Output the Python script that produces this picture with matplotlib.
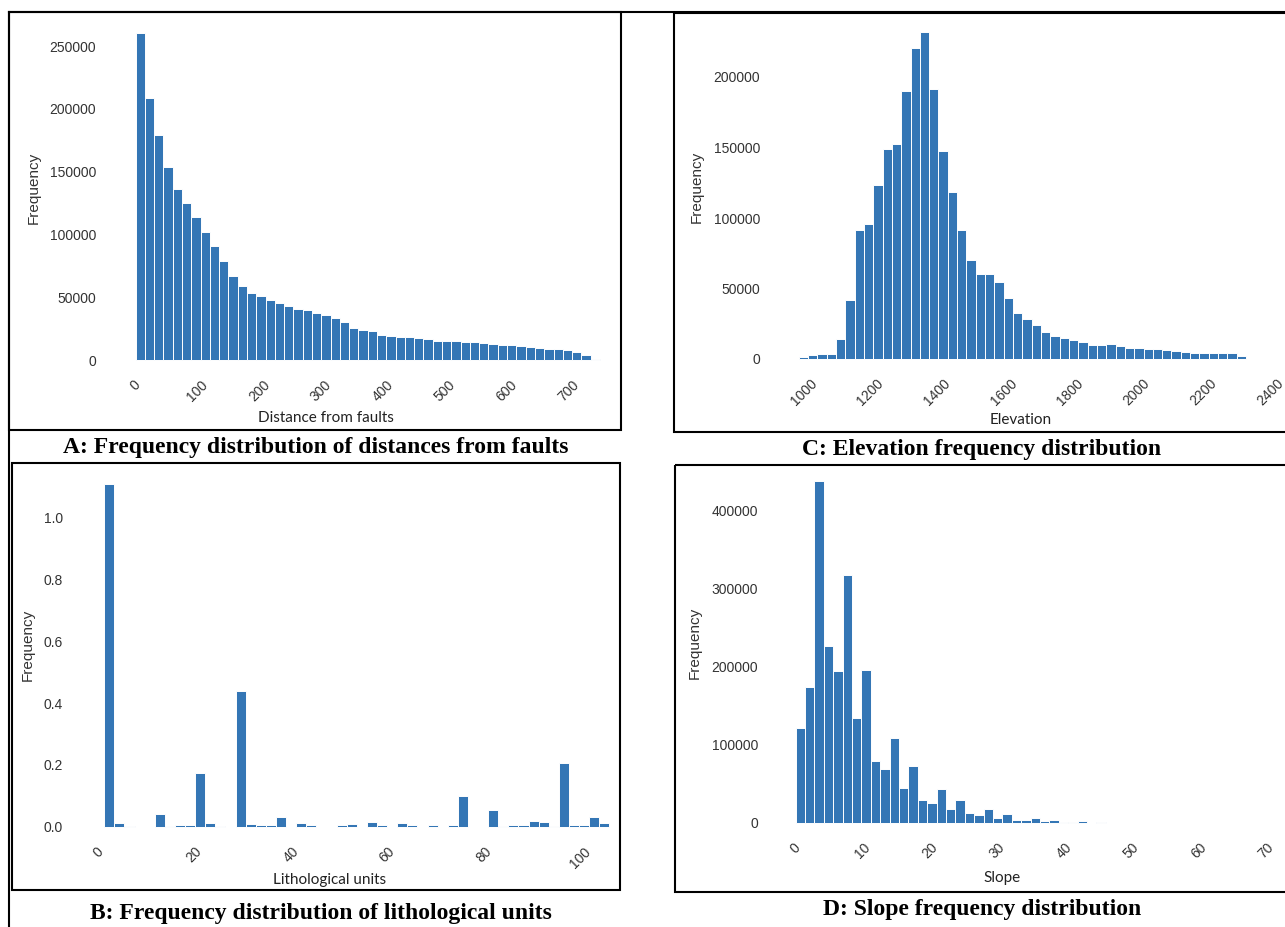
import numpy as np
import matplotlib.pyplot as plt
from matplotlib.patches import Rectangle

W, H = 1285, 927
BLUE = '#3476b5'

# A: distance from faults (50 bins of 15)
fault_edges = np.linspace(0, 750, 51)
fault_counts = [260300, 208500, 179100, 153400, 136200, 125100, 113500, 101900, 90500, 78600,
                66700, 59300, 53700, 51300, 48100, 45200, 42600, 40700, 39700, 37600,
                36000, 33300, 29900, 25400, 23500, 22800, 19600, 19000, 18500, 18000,
                17500, 16400, 15300, 15100, 14800, 14600, 14000, 13500, 12700, 12200,
                11600, 11100, 10600, 9800, 9000, 8500, 7900, 6300, 4000, 500]
fault_ticks = [0, 100, 200, 300, 400, 500, 600, 700]
fault_yticks = [0, 50000, 100000, 150000, 200000, 250000]

# C: elevation (48 bins of 28)
elev_edges = np.linspace(984, 2328, 49)
elev_counts = [1650, 2800, 3300, 3500, 14200, 42100, 91300, 96000, 123200, 148700,
               152500, 189800, 220600, 231900, 191700, 147800, 118400, 91500, 70200, 60500,
               60500, 54600, 43300, 32600, 28400, 23900, 19400, 16500, 15100, 13500,
               11800, 10200, 9700, 10400, 9000, 7800, 8000, 7300, 7100, 6600,
               5700, 4700, 4300, 4300, 4500, 4500, 4500, 2100]
elev_ticks = [1000, 1200, 1400, 1600, 1800, 2000, 2200, 2400]
elev_yticks = [0, 50000, 100000, 150000, 200000]

# B: lithological units (50 bins)
litho_edges = np.linspace(1.3, 106.1, 51)
litho_freq = [1.11, 0.012, 0.001, 0, 0, 0.04, 0.001, 0.004, 0.004, 0.175,
              0.012, 0.001, 0, 0.44, 0.008, 0.006, 0.006, 0.033, 0, 0.013,
              0.004, 0, 0, 0.006, 0.008, 0, 0.015, 0.004, 0, 0.013,
              0.004, 0, 0.006, 0, 0.006, 0.1, 0, 0, 0.055, 0.001,
              0.006, 0.006, 0.02, 0.016, 0.003, 0.205, 0.006, 0.006, 0.03, 0.013]
litho_ticks = [0, 20, 40, 60, 80, 100]
litho_yticks = [0.0, 0.2, 0.4, 0.6, 0.8, 1.0]

# D: slope (50 bins of 1.4)
slope_edges = np.linspace(0, 70, 51)
slope_counts = [122000, 174000, 438000, 227000, 194000, 317000, 135000, 196000, 79500, 69500,
                109000, 45000, 73000, 30000, 25500, 44000, 17500, 29000, 12300, 10200,
                17500, 6800, 11900, 4300, 3400, 6400, 2500, 3800, 1700, 1300,
                2100, 400, 1300, 300, 200, 150, 100, 80, 60, 40,
                0, 0, 0, 0, 0, 0, 0, 0, 0, 0]
slope_ticks = [0, 10, 20, 30, 40, 50, 60, 70]
slope_yticks = [0, 100000, 200000, 300000, 400000]

fig = plt.figure(figsize=(W / 100, H / 100), dpi=100)
fig.patch.set_facecolor('white')


def panel(box, xref, yref, edges, values, xticks, yticks, xlabel, xlab_pos, ylab_pos, yfmt):
    left, right, top, bottom = box
    ax = fig.add_axes([left / W, 1 - bottom / H, (right - left) / W, (bottom - top) / H])
    # map pixel positions
    (v0, p0), (v1, p1) = xref
    s = (v1 - v0) / (p1 - p0)
    ax.set_xlim(v0 + (left - p0) * s, v0 + (right - p0) * s)
    (v0, p0), (v1, p1) = yref
    s = (v1 - v0) / (p1 - p0)
    ax.set_ylim(v0 + (bottom - p0) * s, v0 + (top - p0) * s)

    ax.hist(edges[:-1], bins=edges, weights=values, color=BLUE,
            edgecolor='white', linewidth=0.7)

    for sp in ax.spines.values():
        sp.set_visible(False)
    ax.set_facecolor('white')
    ax.set_xticks(xticks)
    ax.set_yticks(yticks)
    ax.set_yticklabels([yfmt(t) for t in yticks])
    ax.tick_params(axis='y', length=0, pad=11.5, labelsize=10, labelcolor='#333333')
    ax.tick_params(axis='x', length=0, pad=8.3, labelsize=10, labelcolor='#333333',
                   labelrotation=45)
    for lab in ax.get_xticklabels() + ax.get_yticklabels():
        lab.set_fontfamily('Liberation Sans')

    ax.set_xlabel(xlabel, fontfamily='Lato', fontsize=11, color='#222222', va='center')
    ax.xaxis.set_label_coords((xlab_pos[0] - left) / (right - left),
                              (bottom - xlab_pos[1]) / (bottom - top))
    ax.set_ylabel('Frequency', fontfamily='Liberation Sans', fontsize=11,
                  color='#333333', va='center')
    ax.yaxis.set_label_coords((ylab_pos[0] - left) / (right - left),
                              (bottom - ylab_pos[1]) / (bottom - top))
    return ax


intfmt = lambda t: f'{int(t)}'
decfmt = lambda t: f'{t:.1f}'

panel((112, 612, 28, 366), [(0, 135.5), (700, 569)], [(0, 360), (250000, 46)],
      fault_edges, fault_counts, fault_ticks, fault_yticks,
      'Distance from faults', (326, 418), (34, 188), intfmt)

panel((776, 1278, 28, 365), [(1000, 804), (2400, 1270)], [(0, 359), (200000, 77)],
      elev_edges, elev_counts, elev_ticks, elev_yticks,
      'Elevation', (1021, 420), (697, 187), intfmt)

panel((79, 612, 478, 833), [(0, 98), (100, 580)], [(0.0, 826.7), (1.0, 517.7)],
      litho_edges, litho_freq, litho_ticks, litho_yticks,
      'Lithological units', (330, 880), (28, 645), decfmt)

panel((774, 1278, 478, 829), [(0, 795.5), (70, 1265.6)], [(0, 823), (400000, 510.5)],
      slope_edges, slope_counts, slope_ticks, slope_yticks,
      'Slope', (1002, 878), (695, 643), intfmt)

# frames and captions, drawn in pixel coordinates
over = fig.add_axes([0, 0, 1, 1])
over.set_xlim(0, W)
over.set_ylim(H, 0)
over.axis('off')
over.patch.set_alpha(0)

lw = 1.5
over.plot([9, W], [12, 12], color='black', lw=lw)
over.plot([9, 9], [12, H], color='black', lw=lw)
over.add_patch(Rectangle((9, 12), 612, 418, fill=False, lw=lw, ec='black'))
over.add_patch(Rectangle((674, 13), 640, 419, fill=False, lw=lw, ec='black'))
over.add_patch(Rectangle((12, 463), 608, 427, fill=False, lw=lw, ec='black'))
over.add_patch(Rectangle((675, 465), 640, 427, fill=False, lw=lw, ec='black'))

cap = dict(ha='center', va='center', fontfamily='Liberation Serif', fontweight='bold',
           fontsize=17, color='black')
over.text(316, 447, 'A: Frequency distribution of distances from faults', **cap)
over.text(982, 449, 'C: Elevation frequency distribution', **cap)
over.text(321, 913, 'B: Frequency distribution of lithological units', **cap)
over.text(982, 909, 'D: Slope frequency distribution', **cap)

fig.savefig('out.png', dpi=100)
